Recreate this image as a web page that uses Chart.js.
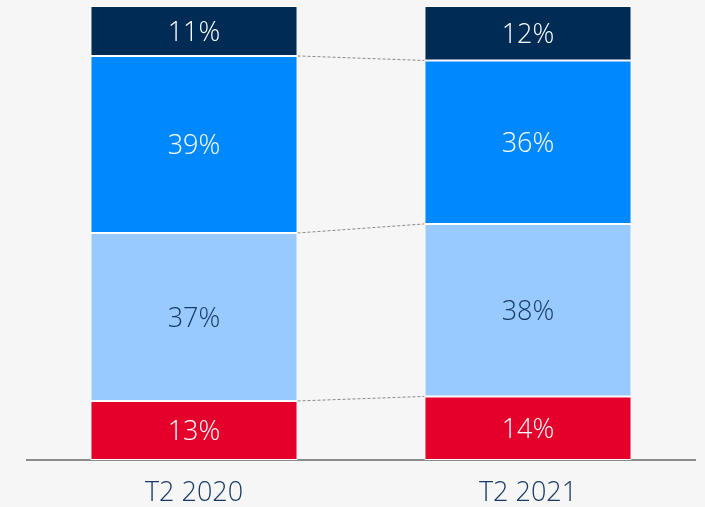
<!DOCTYPE html>
<html>
<head>
<meta charset="utf-8">
<script src="https://cdn.jsdelivr.net/npm/chart.js@4/dist/chart.umd.min.js"></script>
<style>
  html, body { margin: 0; padding: 0; background: #f6f6f6; }
  #wrap { width: 705px; height: 507px; }
</style>
</head>
<body>
<div id="wrap"><canvas id="chart" width="705" height="507"></canvas></div>
<script>
// data
const categories = ['T2 2020', 'T2 2021'];
const seriesRed = [13, 14];
const seriesLight = [37, 38];
const seriesBlue = [39, 36];
const seriesNavy = [11, 12];

const colors = ['#e4002b', '#99caff', '#0088ff', '#002b55'];
const labelColors = ['#ffffff', '#173b63', '#ffffff', '#ffffff'];

// draws % values inside segments
const segLabels = {
    id: 'segLabels',
    afterDatasetsDraw(chart) {
        const ctx = chart.ctx;
        ctx.save();
        ctx.font = '300 27px "Open Sans"';
        ctx.textAlign = 'center';
        ctx.textBaseline = 'middle';
        chart.data.datasets.forEach((ds, i) => {
            const meta = chart.getDatasetMeta(i);
            meta.data.forEach((bar, j) => {
                const mid = (bar.y + bar.base) / 2;
                ctx.fillStyle = labelColors[i];
                ctx.fillText(ds.data[j] + '%', bar.x, mid + 2);
            });
        });
        ctx.restore();
    }
};

// dotted lines between the bars
const connectors = {
    id: 'connectors',
    beforeDatasetsDraw(chart) {
        const ctx = chart.ctx;
        ctx.save();
        ctx.strokeStyle = '#8a8a8a';
        ctx.lineWidth = 1;
        ctx.setLineDash([3, 2]);
        for (let i = 0; i < chart.data.datasets.length - 1; i++) {
            const meta = chart.getDatasetMeta(i);
            const a = meta.data[0];
            const b = meta.data[1];
            ctx.beginPath();
            ctx.moveTo(a.x + a.width / 2, a.y);
            ctx.lineTo(b.x - b.width / 2, b.y);
            ctx.stroke();
        }
        ctx.restore();
    }
};

const bgPlugin = {
    id: 'bg',
    beforeDraw(chart) {
        const ctx = chart.ctx;
        ctx.save();
        ctx.fillStyle = '#f6f6f6';
        ctx.fillRect(0, 0, chart.width, chart.height);
        ctx.restore();
    }
};

const seriesList = [seriesRed, seriesLight, seriesBlue, seriesNavy];

new Chart(document.getElementById('chart'), {
    type: 'bar',
    data: {
        labels: categories,
        datasets: seriesList.map((s, i) => ({
            data: s,
            backgroundColor: colors[i],
            borderColor: '#ffffff',
            borderWidth: 1,
            borderSkipped: false,
            categoryPercentage: 1,
            barPercentage: 0.62
        }))
    },
    options: {
        responsive: false,
        animation: false,
        devicePixelRatio: 1,
        layout: { padding: { left: 27, right: 10, top: 6, bottom: 0 } },
        plugins: { legend: { display: false }, tooltip: { enabled: false } },
        scales: {
            x: {
                stacked: true,
                grid: { display: false, drawTicks: false },
                border: { display: true, color: '#8c8c8c', width: 2 },
                ticks: { color: '#173b63', font: { family: 'Open Sans', size: 27, weight: 300 }, padding: 17 },
                afterFit(scale) { scale.height = 47; }
            },
            y: {
                stacked: true,
                min: 0,
                max: 100,
                display: false
            }
        }
    },
    plugins: [bgPlugin, connectors, segLabels]
});
</script>
</body>
</html>
